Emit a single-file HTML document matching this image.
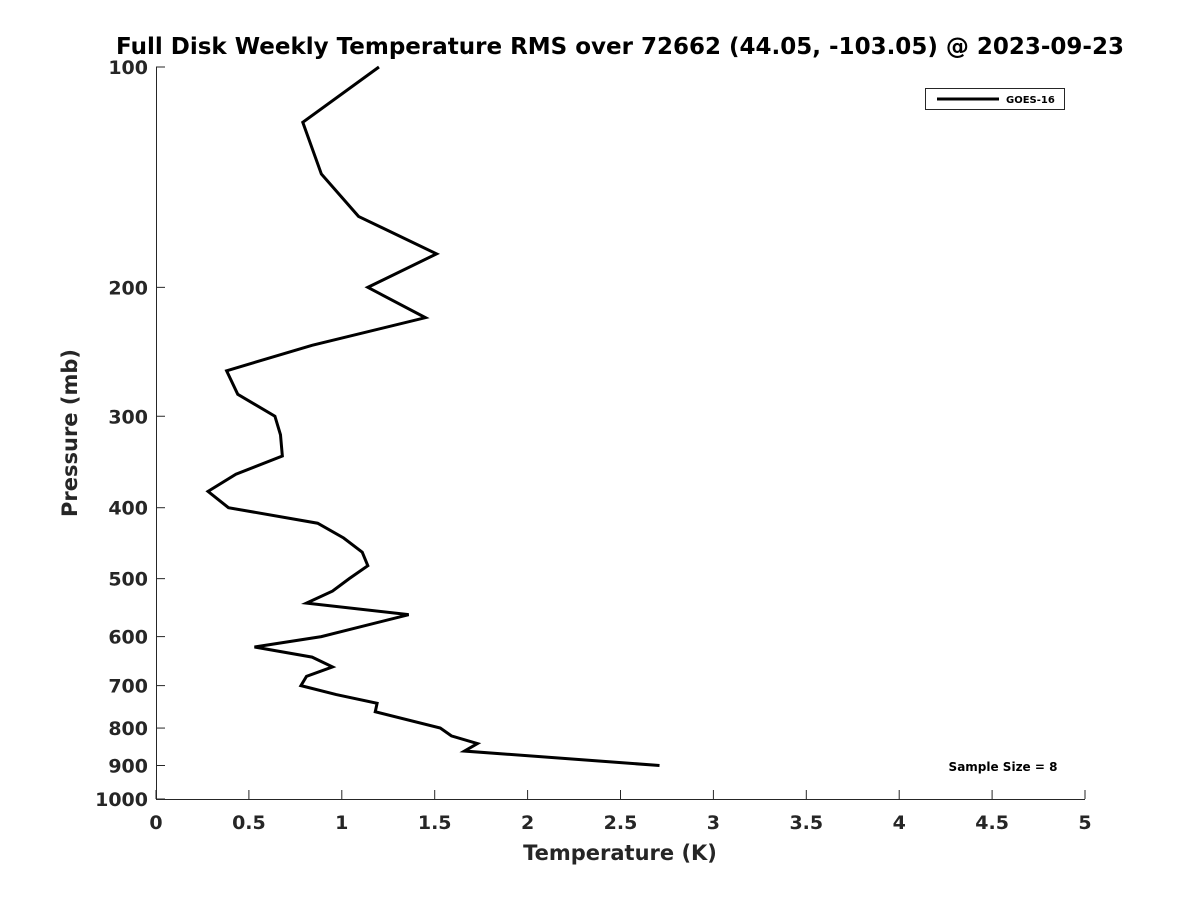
<!DOCTYPE html>
<html><head><meta charset="utf-8"><style>
body{margin:0;background:#fff;}
svg text{font-family:"DejaVu Sans","Liberation Sans",sans-serif;font-weight:bold;fill:#262626;}
</style></head><body>
<svg id="chart" width="1200" height="900" xmlns="http://www.w3.org/2000/svg">
<rect width="1200" height="900" fill="#fff"/>
<text x="620" y="54" text-anchor="middle" font-size="23" style="fill:#000">Full Disk Weekly Temperature RMS over 72662 (44.05, -103.05) @ 2023-09-23</text>
<g id="axes"></g>
<polyline id="series" fill="none" stroke="#000" stroke-width="3" stroke-linejoin="miter"/>
<g>
<rect x="925.5" y="88.5" width="139" height="21" fill="#fff" stroke="#262626" stroke-width="1"/>
<line x1="937" y1="99" x2="999" y2="99" stroke="#000" stroke-width="3"/>
<text x="1006" y="103" font-size="10" style="fill:#000">GOES-16</text>
</g>
<text x="1003" y="771" text-anchor="middle" font-size="12" style="fill:#000">Sample Size = 8</text>
<text x="620" y="860" text-anchor="middle" font-size="21">Temperature (K)</text>
<text x="0" y="0" transform="translate(77,433) rotate(-90)" text-anchor="middle" font-size="21">Pressure (mb)</text>
</svg>
<script>
const temps=[1.20,0.79,0.89,1.09,1.51,1.14,1.45,0.84,0.38,0.44,0.64,0.67,0.68,0.43,0.28,0.39,0.87,1.01,1.11,1.14,1.04,0.95,0.81,1.36,0.89,0.53,0.84,0.95,0.81,0.78,0.97,1.19,1.18,1.53,1.59,1.73,1.66,2.71];
const pressures=[100,119,140,160,180,200,220,240,260,280,300,318,340,360,380,400,420,440,460,480,500,520,540,560,600,620,640,660,680,700,720,740,760,800,820,840,860,900];
const xTicks=[0,0.5,1,1.5,2,2.5,3,3.5,4,4.5,5];
const yTicks=[100,200,300,400,500,600,700,800,900,1000];
const X0=156,X1=1085,Y0=67,Y1=799;
const xs=v=>X0+(v-0)/(5-0)*(X1-X0);
const ys=p=>Y0+(Math.log10(p)-2)*(Y1-Y0);
const NS="http://www.w3.org/2000/svg";
const ax=document.getElementById('axes');
function mk(t,a){const e=document.createElementNS(NS,t);for(const k in a)e.setAttribute(k,a[k]);ax.appendChild(e);return e;}
const xa=mk('line',{x1:X0,y1:Y1+0.5,x2:X1,y2:Y1+0.5,stroke:'#262626','stroke-width':1});


const ya=mk('line',{x1:X0+0.5,y1:Y0,x2:X0+0.5,y2:Y1,stroke:'#262626','stroke-width':1});


xTicks.forEach(v=>{const x=xs(v);
mk('line',{x1:x,y1:Y1,x2:x,y2:Y1-9,stroke:'#262626'});
const t=mk('text',{x:x,y:Y1+30,'text-anchor':'middle','font-size':19});t.textContent=v;

});
yTicks.forEach(p=>{const y=ys(p);
mk('line',{x1:X0,y1:y,x2:X0+9,y2:y,stroke:'#262626'});
const t=mk('text',{x:X0-8,y:y+7,'text-anchor':'end','font-size':19});t.textContent=p;

});
document.getElementById('series').setAttribute('points',temps.map((v,i)=>xs(v)+','+ys(pressures[i])).join(' '));
</script>
</body></html>
